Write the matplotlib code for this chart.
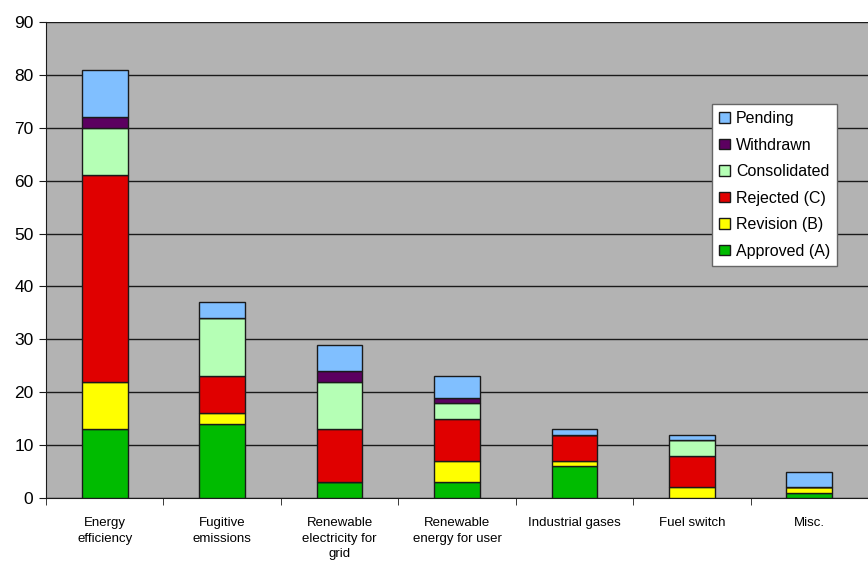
import matplotlib
matplotlib.use("Agg")
import matplotlib.pyplot as plt
import numpy as np

plt.rcParams['font.family'] = ['Liberation Sans', 'DejaVu Sans']

categories = ["Energy\nefficiency", "Fugitive\nemissions", "Renewable\nelectricity for\ngrid",
              "Renewable\nenergy for user", "Industrial gases", "Fuel switch", "Misc."]
approved = [13, 14, 3, 3, 6, 0, 1]
revision = [9, 2, 0, 4, 1, 2, 1]
rejected = [39, 7, 10, 8, 5, 6, 0]
consolidated = [9, 11, 9, 3, 0, 3, 0]
withdrawn = [2, 0, 2, 1, 0, 0, 0]
pending = [9, 3, 5, 4, 1, 1, 3]

series = [("Approved (A)", approved, "#00bb00"),
          ("Revision (B)", revision, "#ffff00"),
          ("Rejected (C)", rejected, "#e00000"),
          ("Consolidated", consolidated, "#b5ffb5"),
          ("Withdrawn", withdrawn, "#5c0060"),
          ("Pending", pending, "#80bfff")]

fig = plt.figure(figsize=(8.68, 5.65), dpi=100)
ax = fig.add_axes([46/868, 1-498/565, (868-46)/868, (498-22)/565])
ax.set_facecolor("#b3b3b3")

x = np.arange(len(categories))
bottom = np.zeros(len(categories))
handles = []
for name, vals, col in series:
    v = np.array(vals, dtype=float)
    b = ax.bar(x, v, bottom=bottom, width=0.39, color=col, edgecolor="#1a1a1a",
               linewidth=1.0, label=name, zorder=3)
    handles.append(b)
    bottom += v

ax.set_ylim(0, 90)
ax.set_yticks(range(0, 91, 10))
ax.set_xlim(-0.5, 6.5 - 11/119)
ax.yaxis.grid(True, color="#1a1a1a", linewidth=1.0, zorder=1)
ax.set_axisbelow(True)
ax.set_xticks(x)
ax.set_xticklabels(categories, fontsize=9.5, linespacing=1.35, va="top")
ax.tick_params(axis="x", length=0, pad=14)
ax.set_xticks(np.arange(-0.5, 7, 1), minor=True)
ax.tick_params(axis="x", which="minor", length=5, direction="out", color="#1a1a1a")
ax.tick_params(axis="y", length=5, direction="out", labelsize=12.5, color="#1a1a1a", pad=4)
for s in ["top", "right"]:
    ax.spines[s].set_visible(False)
ax.spines["left"].set_color("#1a1a1a")
ax.spines["bottom"].set_color("#1a1a1a")

leg = ax.legend(handles=handles[::-1], loc="upper left",
                fontsize=11.5, frameon=True, fancybox=False, framealpha=1.0,
                handlelength=0.65, handleheight=0.65,
                handletextpad=0.4, labelspacing=0.72, borderpad=0.45, borderaxespad=0,
                edgecolor="#666666",
                bbox_to_anchor=(712/868, 1-104/565), bbox_transform=fig.transFigure)
leg.get_frame().set_linewidth(1.0)

fig.savefig("out.png", dpi=100)
